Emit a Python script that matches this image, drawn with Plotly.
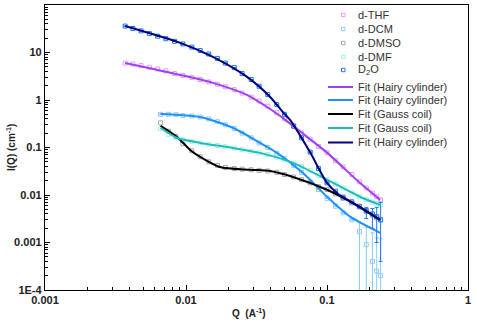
import plotly.graph_objects as go

# ---------------- data ----------------
q_long = [0.0037, 0.0042, 0.0048, 0.0055, 0.0063, 0.0072, 0.0083, 0.0095, 0.011, 0.0126,
          0.0145, 0.0167, 0.019, 0.022, 0.025, 0.029, 0.033, 0.038, 0.044, 0.05,
          0.058, 0.066, 0.076, 0.087, 0.1, 0.115, 0.13, 0.15, 0.17, 0.19,
          0.21, 0.225, 0.24]
q_short = [0.0066, 0.0075, 0.0085, 0.0095, 0.011, 0.0126, 0.0145, 0.0167, 0.019, 0.022,
           0.025, 0.029, 0.033, 0.038, 0.044, 0.05, 0.058, 0.066, 0.076, 0.087,
           0.1, 0.115, 0.13, 0.15, 0.17, 0.19, 0.21, 0.225, 0.24]

thf_i = [6.0, 5.7, 5.3, 4.9, 4.5, 4.1, 3.6, 3.3, 3.0, 2.7,
         2.4, 2.15, 1.9, 1.65, 1.4, 1.15, 0.95, 0.74, 0.54, 0.40,
         0.29, 0.20, 0.15, 0.105, 0.078, 0.053, 0.039, 0.027, 0.019, 0.014,
         0.011, 0.0092, 0.0079]
d2o_i = [36, 32, 28.5, 25, 22, 19.5, 17.2, 15.2, 13, 11,
         9.3, 7.5, 6.0, 4.8, 3.6, 2.7, 1.95, 1.3, 0.8, 0.5,
         0.28, 0.16, 0.08, 0.036, 0.018, 0.012, 0.009, 0.0072, 0.0058, 0.0047,
         0.004, 0.0035, 0.003]
d2o_err_up = [0] * 29 + [0.0008, 0.0012, 0.002, 0.004]
d2o_err_dn = [0] * 29 + [0.0015, 0.002, 0.0025, 0.0026]

dcm_i = [0.5, 0.5, 0.49, 0.47, 0.46, 0.44, 0.40, 0.35, 0.30, 0.25,
         0.20, 0.16, 0.125, 0.10, 0.075, 0.058, 0.042, 0.030, 0.019, 0.013,
         0.0085, 0.0058, 0.0042, 0.0030, 0.0017, 0.0009, 0.0004, 0.00025, 0.0002]
dcm_err_up = [0] * 24 + [0.001, 0.0012, 0.0012, 0.001, 0.001]
dcm_err_dn = [0] * 24 + [0.00165, 0.00088, 0.00039, 0.000245, 0.000196]

dmso_i = [0.33, 0.22, 0.17, 0.12, 0.085, 0.064, 0.05, 0.042, 0.038, 0.036,
          0.035, 0.034, 0.033, 0.032, 0.030, 0.027, 0.024, 0.021, 0.018, 0.015,
          0.013, 0.0105, 0.0085, 0.0068, 0.0056, 0.0045, 0.0038, 0.0033, 0.003]
dmf_i = [0.25, 0.19, 0.16, 0.145, 0.135, 0.125, 0.117, 0.11, 0.104, 0.097,
         0.09, 0.083, 0.077, 0.071, 0.063, 0.055, 0.047, 0.04, 0.033, 0.026,
         0.021, 0.017, 0.014, 0.011, 0.0092, 0.008, 0.0071, 0.0066, 0.0062]

# fits
fit_q_thf = [0.0037, 0.0091, 0.0155, 0.027, 0.041, 0.049, 0.07, 0.1, 0.171, 0.238]
fit_i_thf = [6.0, 3.37, 2.29, 1.28, 0.60, 0.41, 0.18, 0.078, 0.018, 0.0079]
fit_q_dcm = [0.0066, 0.0126, 0.0215, 0.0335, 0.0442, 0.0676, 0.1, 0.146, 0.238]
fit_i_dcm = [0.51, 0.44, 0.26, 0.125, 0.077, 0.029, 0.0092, 0.0035, 0.0016]
fit_q_dmso = [0.0066, 0.0086, 0.0107, 0.0126, 0.0174, 0.0284, 0.0395, 0.0574, 0.1, 0.171, 0.238]
fit_i_dmso = [0.285, 0.168, 0.089, 0.0636, 0.039, 0.034, 0.032, 0.024, 0.0129, 0.0056, 0.0030]
fit_q_dmf = [0.0066, 0.0086, 0.0126, 0.0215, 0.0335, 0.0574, 0.1, 0.171, 0.238]
fit_i_dmf = [0.26, 0.16, 0.125, 0.098, 0.077, 0.0475, 0.021, 0.0092, 0.0062]
fit_q_d2o = [0.0037, 0.0091, 0.0155, 0.0271, 0.0395, 0.0488, 0.0547, 0.0757, 0.1, 0.12, 0.139, 0.238]
fit_i_d2o = [36, 15.9, 8.06, 3.06, 1.16, 0.55, 0.38, 0.08, 0.018, 0.0105, 0.008, 0.003]

data_names = ["d-THF", "d-DCM", "d-DMSO", "d-DMF", "D<sub>2</sub>O"]
fit_names = ["Fit (Hairy cylinder)", "Fit (Hairy cylinder)", "Fit (Gauss coil)",
             "Fit (Gauss coil)", "Fit (Hairy cylinder)"]

y_tickvals = [1e-4, 1e-3, 1e-2, 1e-1, 1, 10, 100]
y_ticktext = ["1E-4", "0.001", "0.01", "0.1", "1", "10", "100"]
x_tickvals = [0.001, 0.01, 0.1, 1]
x_ticktext = ["0.001", "0.01", "0.1", "1"]

# ---------------- styling ----------------
data_colors = ["#E59CF2", "#8CCDF2", "#A8A8A8", "#A6EFE8", "#1F7BEA"]
fit_colors = ["#A040F0", "#1E90FF", "#000000", "#1EBDB5", "#000080"]
FONT = "Liberation Sans, Arial, sans-serif"

fig = go.Figure()

data_sets = [
    (q_long, thf_i, None, None),
    (q_short, dcm_i, dcm_err_up, dcm_err_dn),
    (q_short, dmso_i, None, None),
    (q_short, dmf_i, None, None),
    (q_long, d2o_i, d2o_err_up, d2o_err_dn),
]
for (qq, ii, eu, ed), col, nm in zip(data_sets, data_colors, data_names):
    kw = {}
    if eu is not None:
        kw["error_y"] = dict(type="data", symmetric=False, array=eu, arrayminus=ed,
                             color=col, thickness=1, width=2)
    fig.add_trace(go.Scatter(x=qq, y=ii, mode="markers", name=nm, showlegend=False,
                             marker=dict(symbol="square-open", size=4, color=col,
                                         line=dict(width=1, color=col)), **kw))

fits = [(fit_q_thf, fit_i_thf), (fit_q_dcm, fit_i_dcm), (fit_q_dmso, fit_i_dmso),
        (fit_q_dmf, fit_i_dmf), (fit_q_d2o, fit_i_d2o)]
for (qq, ii), col, nm in zip(fits, fit_colors, fit_names):
    fig.add_trace(go.Scatter(x=qq, y=ii, mode="lines", name=nm, showlegend=False,
                             line=dict(color=col, width=2, shape="spline", smoothing=0.7)))

# ---------------- manual legend ----------------
L, R, T, B = 45, 468, 5, 290
def xp(px):
    return (px - L) / (R - L)
def yp(py):
    return 1 - (py - T) / (B - T)

shapes = []
annotations = []
data_rows = [15, 29, 43, 57, 70]
fit_rows = [87, 100, 114, 128, 142.5]
for nm, col, ry in zip(data_names, data_colors, data_rows):
    shapes.append(dict(type="rect", xref="paper", yref="paper",
                       x0=xp(341.5), x1=xp(345), y0=yp(ry + 1.7), y1=yp(ry - 1.7),
                       line=dict(color=col, width=1), fillcolor="rgba(0,0,0,0)"))
    annotations.append(dict(text=nm, xref="paper", yref="paper", x=xp(356), y=yp(ry),
                            xanchor="left", yanchor="middle", showarrow=False,
                            font=dict(family=FONT, size=11, color="#333")))
for nm, col, ry in zip(fit_names, fit_colors, fit_rows):
    shapes.append(dict(type="line", xref="paper", yref="paper",
                       x0=xp(328), x1=xp(353), y0=yp(ry), y1=yp(ry),
                       line=dict(color=col, width=2)))
    annotations.append(dict(text=nm, xref="paper", yref="paper", x=xp(356), y=yp(ry),
                            xanchor="left", yanchor="middle", showarrow=False,
                            font=dict(family=FONT, size=11, color="#333")))

# axis titles
annotations.append(dict(text="<b>Q  (A<sup>-1</sup>)</b>", xref="paper", yref="paper",
                        x=xp(248), y=yp(313), xanchor="center", yanchor="middle",
                        showarrow=False, font=dict(family=FONT, size=10, color="#222")))
annotations.append(dict(text="<b>I(Q) (cm<sup>-1</sup>)</b>", xref="paper", yref="paper",
                        x=xp(11), y=yp(148), xanchor="center", yanchor="middle",
                        textangle=-90, showarrow=False,
                        font=dict(family=FONT, size=10, color="#222")))

minor_x = [k * 10 ** e for e in range(-3, 0) for k in range(2, 10)]
minor_y = [k * 10 ** e for e in range(-4, 2) for k in range(2, 10)]

axis_common = dict(type="log", showline=True, linecolor="black", linewidth=1.3,
                   mirror=True, ticks="inside", ticklen=5, tickwidth=1, tickcolor="black",
                   showgrid=False, zeroline=False, tickmode="array",
                   tickfont=dict(family=FONT, size=11, color="#222", weight="bold"))

fig.update_layout(
    width=477, height=330,
    margin=dict(l=L, r=477 - R, t=T, b=330 - B),
    paper_bgcolor="white", plot_bgcolor="white",
    xaxis=dict(range=[-3, 0], tickvals=x_tickvals, ticktext=x_ticktext,
               minor=dict(tickmode="array", tickvals=minor_x, ticks="inside", ticklen=3,
                          tickcolor="black", showgrid=False),
               **axis_common),
    yaxis=dict(range=[-4, 2], tickvals=y_tickvals, ticktext=y_ticktext,
               minor=dict(tickmode="array", tickvals=minor_y, ticks="inside", ticklen=3,
                          tickcolor="black", showgrid=False),
               **axis_common),
    shapes=shapes, annotations=annotations, showlegend=False,
)

fig.write_html("out.html")
